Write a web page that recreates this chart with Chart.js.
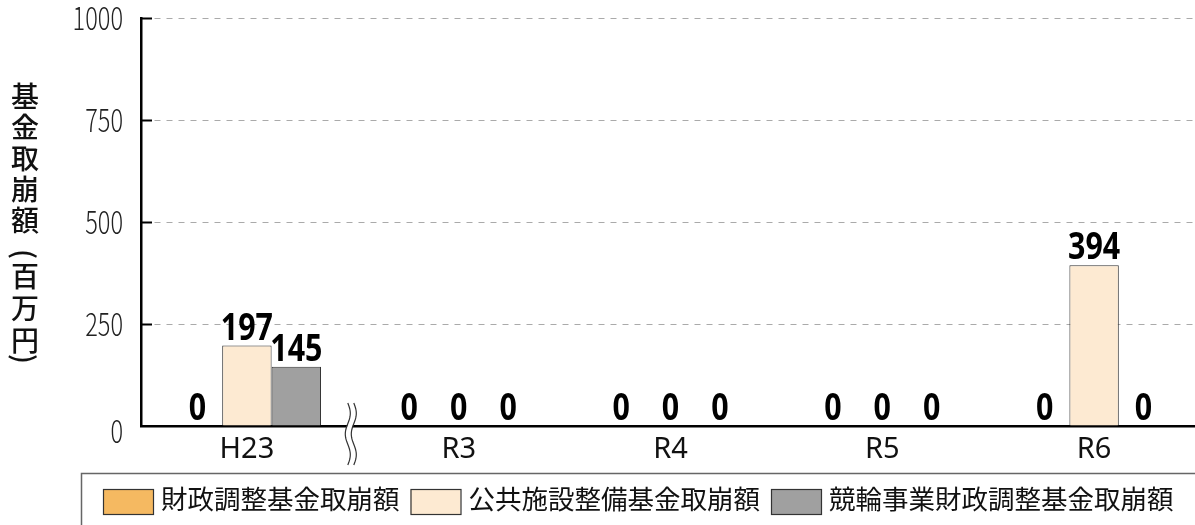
<!DOCTYPE html>
<html lang="ja">
<head>
<meta charset="utf-8">
<title>基金取崩額</title>
<script src="https://cdn.jsdelivr.net/npm/chart.js@4.4.1/dist/chart.umd.min.js"></script>
<style>
  html, body { margin: 0; padding: 0; background: #fff; overflow: hidden; }
  #wrap { width: 1200px; height: 525px; }
  canvas { display: block; }
</style>
</head>
<body>
<div id="wrap"><canvas id="chart" width="1200" height="525"></canvas></div>
<script>
// data
const years = ["H23", "R3", "R4", "R5", "R6"];
const zaiseiChosei = [0, 0, 0, 0, 0];
const koukyouShisetsu = [197, 0, 0, 0, 394];
const keirinChosei = [145, 0, 0, 0, 0];
const seriesNames = ["財政調整基金取崩額", "公共施設整備基金取崩額", "競輪事業財政調整基金取崩額"];
const seriesColors = ["#F5B961", "#FDEAD2", "#A0A0A0"];
const yMax = 1000;
const yStep = 250;
const yTitleMain = ["基", "金", "取", "崩", "額"];
const yTitleUnit = ["(", "百", "万", "円", ")"];

const JP = "'Noto Sans CJK JP', 'Noto Sans', sans-serif";

// 横に詰めた文字を描く
function narrowText(ctx, text, x, y, squeeze) {
  ctx.save();
  ctx.translate(x, y);
  ctx.scale(squeeze, 1);
  ctx.fillText(text, 0, 0);
  ctx.restore();
}

// 数値ラベル
const valueLabels = {
  id: "valueLabels",
  afterDatasetsDraw(chart) {
    const ctx = chart.ctx;
    ctx.save();
    ctx.font = "bold 38px 'Noto Sans', sans-serif";
    ctx.fillStyle = "#000";
    ctx.textAlign = "center";
    ctx.textBaseline = "alphabetic";
    chart.data.datasets.forEach((ds, i) => {
      chart.getDatasetMeta(i).data.forEach((bar, j) => {
        narrowText(ctx, String(ds.data[j]), bar.x, bar.y - 6, 0.8);
      });
    });
    ctx.restore();
  }
};

// 目盛り・省略記号・軸タイトル・凡例
const extras = {
  id: "extras",
  afterDraw(chart) {
    const ctx = chart.ctx;
    const area = chart.chartArea;
    const xs = chart.scales.x;
    const ys = chart.scales.y;
    ctx.save();

    // inward tick marks + y labels
    ctx.strokeStyle = "#000";
    ctx.lineWidth = 2;
    ctx.fillStyle = "#222";
    ctx.font = "300 31px " + JP;
    ctx.textAlign = "right";
    ctx.textBaseline = "middle";
    ys.ticks.forEach(t => {
      const y = Math.round(ys.getPixelForValue(t.value)) + 0.5;
      narrowText(ctx, String(t.value), 123, y + (t.value === 0 ? 5 : 0), 0.76);
      if (t.value === 0) return;
      ctx.beginPath();
      ctx.moveTo(area.left, y);
      ctx.lineTo(area.left + 11, y);
      ctx.stroke();
    });

    // break mark between H23 and R3
    const bx = (xs.getPixelForValue(0) + xs.getPixelForValue(1)) / 2 - 2;
    const y0 = area.bottom - 23, y1 = area.bottom + 39;
    const wave = (off) => {
      ctx.beginPath();
      for (let y = y0; y <= y1; y++) {
        const x = bx + off + 2.5 * Math.sin((y - y0) / (y1 - y0) * Math.PI * 3);
        if (y === y0) ctx.moveTo(x, y); else ctx.lineTo(x, y);
      }
      ctx.stroke();
    };
    ctx.strokeStyle = "#fff";
    ctx.lineWidth = 5;
    wave(0);
    ctx.strokeStyle = "#333";
    ctx.lineWidth = 1.2;
    wave(-3);
    wave(3);

    // vertical axis title
    ctx.fillStyle = "#111";
    ctx.font = "500 28px " + JP;
    ctx.textAlign = "center";
    ctx.textBaseline = "middle";
    yTitleMain.forEach((ch, i) => ctx.fillText(ch, 25, 96 + i * 31));
    const unitY = [254, 276, 308, 340, 359];
    yTitleUnit.forEach((ch, i) => {
      if (ch === "(" || ch === ")") {
        ctx.save();
        ctx.translate(25, unitY[i]);
        ctx.rotate(Math.PI / 2);
        ctx.fillText(ch, 0, 0);
        ctx.restore();
      } else {
        ctx.fillText(ch, 25, unitY[i]);
      }
    });

    // legend frame
    ctx.strokeStyle = "#666";
    ctx.lineWidth = 1.5;
    ctx.beginPath();
    ctx.moveTo(81.5, 530);
    ctx.lineTo(81.5, 473.5);
    ctx.lineTo(1205, 473.5);
    ctx.stroke();

    // legend items
    ctx.font = "26.5px " + JP;
    ctx.textAlign = "left";
    let x = 103;
    chart.data.datasets.forEach(ds => {
      ctx.fillStyle = ds.backgroundColor;
      ctx.fillRect(x, 489, 50, 25);
      ctx.strokeStyle = "#333";
      ctx.lineWidth = 1.2;
      ctx.strokeRect(x + 0.5, 489.5, 50, 25);
      ctx.fillStyle = "#111";
      ctx.fillText(ds.label, x + 58, 499);
      x += 58 + ctx.measureText(ds.label).width + 11;
    });

    ctx.restore();
  }
};

new Chart(document.getElementById("chart"), {
  type: "bar",
  data: {
    labels: years,
    datasets: [zaiseiChosei, koukyouShisetsu, keirinChosei].map((vals, i) => ({
      label: seriesNames[i],
      data: vals,
      backgroundColor: seriesColors[i],
      borderColor: "#333",
      borderWidth: 1,
      categoryPercentage: 0.7,
      barPercentage: 1
    }))
  },
  options: {
    responsive: false,
    animation: false,
    devicePixelRatio: 1,
    layout: { padding: { top: 18, left: 0, right: 0, bottom: 0 } },
    plugins: {
      legend: { display: false },
      tooltip: { enabled: false }
    },
    scales: {
      x: {
        grid: { display: false, drawTicks: false },
        border: { display: true, color: "#000", width: 2.5 },
        ticks: { color: "#111", font: { family: "'Noto Sans', sans-serif", size: 29 }, padding: 6 },
        afterFit(scale) { scale.height = 99; }
      },
      y: {
        min: 0,
        max: yMax,
        grid: {
          drawTicks: false,
          color: ctx => ctx.tick && ctx.tick.value === 0 ? "rgba(0,0,0,0)" : "#aaa",
          lineWidth: 1
        },
        border: { display: true, color: "#000", width: 2.5, dash: [6, 6] },
        ticks: { stepSize: yStep, display: false },
        afterFit(scale) { scale.width = 141; }
      }
    }
  },
  plugins: [valueLabels, extras]
});
</script>
</body>
</html>
